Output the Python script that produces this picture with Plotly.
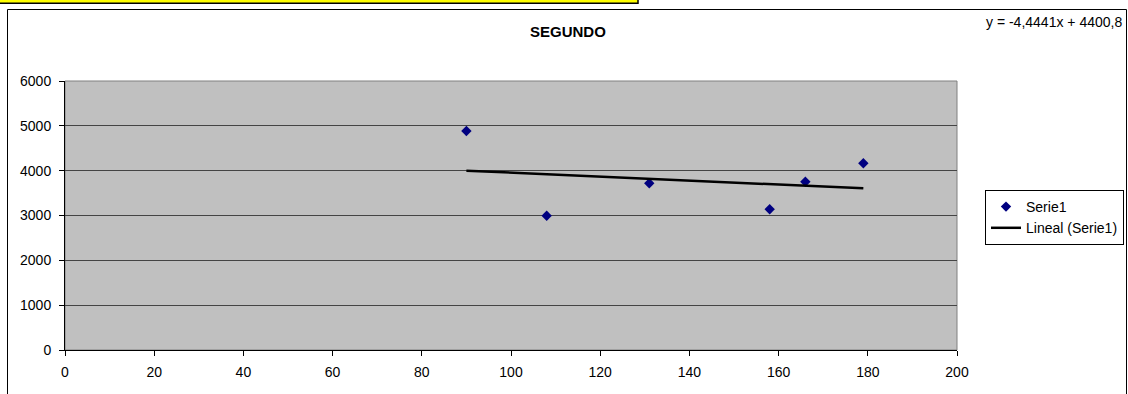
import plotly.graph_objects as go

# Data
x_values = [90, 108, 131, 158, 166, 179]
y_values = [4885, 2996, 3718, 3138, 3754, 4165]
series_name = "Serie1"
trend_name = "Lineal (Serie1)"
trend_slope = -4.4441
trend_intercept = 4400.8
equation_text = "y = -4,4441x + 4400,8"
chart_title = "SEGUNDO"

W, H = 1128, 394
L, R, T, B = 65, 957, 81, 350   # plot area in pixels


def px(x):
    return (x - L) / (R - L)


def py(y):
    return (B - y) / (B - T)


trend_x = [min(x_values), max(x_values)]
trend_y = [trend_slope * v + trend_intercept for v in trend_x]

FONT = "Liberation Sans, Arial, sans-serif"

fig = go.Figure()
fig.add_trace(go.Scatter(
    x=x_values, y=y_values, mode="markers", name=series_name,
    marker=dict(symbol="diamond", size=8, color="#000080",
                line=dict(width=0)),
))
fig.add_trace(go.Scatter(
    x=trend_x, y=trend_y, mode="lines", name=trend_name,
    line=dict(color="black", width=2.5),
))

shapes = [
    # outer chart border
    dict(type="rect", xref="paper", yref="paper",
         x0=px(7.5), x1=px(1126.5), y0=py(410), y1=py(9.5),
         line=dict(color="black", width=1), fillcolor="rgba(0,0,0,0)",
         layer="below"),
    # yellow highlighted cell strip
    dict(type="rect", xref="paper", yref="paper",
         x0=px(-5), x1=px(638), y0=py(3.2), y1=py(-5),
         line=dict(color="black", width=1.5), fillcolor="#FFFF00"),
    # plot area border (gray top/right)
    dict(type="rect", xref="paper", yref="paper",
         x0=0, x1=1, y0=0, y1=1,
         line=dict(color="#808080", width=1), fillcolor="rgba(0,0,0,0)",
         layer="below"),
]

fig.update_layout(
    width=W, height=H,
    margin=dict(l=L, r=W - R, t=T, b=H - B, pad=0, autoexpand=False),
    paper_bgcolor="white",
    plot_bgcolor="#C0C0C0",
    font=dict(family=FONT, size=14, color="black"),
    showlegend=True,
    legend=dict(
        x=px(985), y=py(190), xanchor="left", yanchor="top",
        bgcolor="white", bordercolor="black", borderwidth=1,
        font=dict(family=FONT, size=14, color="black"),
        itemwidth=30, tracegroupgap=0,
    ),
    shapes=shapes,
    annotations=[
        dict(text="<b>" + chart_title + "</b>", xref="paper", yref="paper",
             x=px(567.5), y=py(32), xanchor="center", yanchor="middle",
             showarrow=False, font=dict(family=FONT, size=15, color="black")),
        dict(text=equation_text, xref="paper", yref="paper",
             x=px(1124), y=py(22), xanchor="right", yanchor="middle",
             showarrow=False, font=dict(family=FONT, size=14, color="black")),
    ],
    xaxis=dict(
        range=[0, 200], dtick=20, tick0=0, showgrid=False, zeroline=False,
        showline=True, linecolor="black", linewidth=1,
        ticks="outside", ticklen=5, tickcolor="black", tickwidth=1,
        ticklabelstandoff=4,
        tickfont=dict(family=FONT, size=14, color="black"),
        fixedrange=True,
    ),
    yaxis=dict(
        range=[0, 6000], dtick=1000, tick0=0, showgrid=True,
        gridcolor="#444444", gridwidth=1, zeroline=False,
        showline=True, linecolor="black", linewidth=1,
        ticks="outside", ticklen=5, tickcolor="black", tickwidth=1,
        ticklabelstandoff=5,
        tickfont=dict(family=FONT, size=14, color="black"),
        fixedrange=True,
    ),
)

fig.write_html("out.html")
